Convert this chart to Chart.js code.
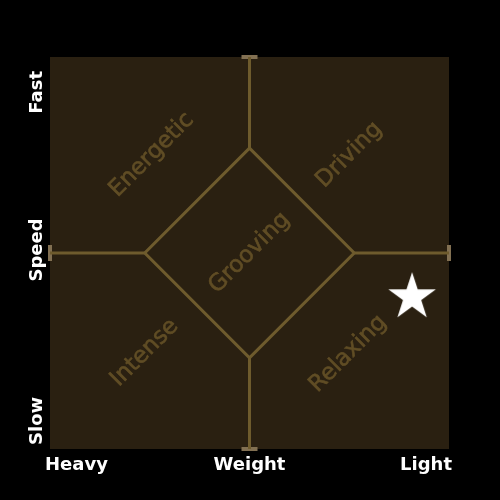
<!DOCTYPE html>
<html>
<head>
<meta charset="utf-8">
<script src="https://cdn.jsdelivr.net/npm/chart.js@4"></script>
<style>
  body { margin: 0; background: #000; }
  canvas { display: block; }
</style>
</head>
<body>
<canvas id="moodChart" width="500" height="500"></canvas>
<script>
// axis ticks
const xTickValues = [-1, 0, 1];
const xTickLabels = ['Heavy', 'Weight', 'Light'];
const yTickValues = [1, 0, -1];
const yTickLabels = ['Fast', 'Speed', 'Slow'];

// the diamond and the four arms
const diamondX = [0, 0.525, 0, -0.525, 0];
const diamondY = [0.535, 0, -0.535, 0, 0.535];
const armsX = [[0, 0], [-1, -0.525], [0.525, 1], [0, 0]];
const armsY = [[1, 0.535], [0, 0], [0, 0], [-0.535, -1]];
const capX = [0, -1, 1, 0];
const capY = [1, 0, 0, -1];
const capAngle = [0, 90, 90, 0];

// quadrant labels
const moodLabels = ['Energetic', 'Driving', 'Grooving', 'Intense', 'Relaxing'];
const moodX = [-0.49, 0.5, 0.0, -0.525, 0.495];
const moodY = [0.5, 0.5, 0.0, -0.51, -0.515];

// the track
const trackX = [0.815];
const trackY = [-0.22];

const lineColor = '#6e5b2d';

function toPoints(xs, ys) {
    return xs.map((x, i) => ({ x: x, y: ys[i] }));
}

// white five pointed star used as the point marker
const starImg = document.createElement('canvas');
starImg.width = 52;
starImg.height = 52;
(function () {
    const c = starImg.getContext('2d');
    c.fillStyle = '#ffffff';
    c.beginPath();
    for (let i = 0; i < 10; i++) {
        const r = i % 2 === 0 ? 25 : 9.6;
        const a = -Math.PI / 2 + i * Math.PI / 5;
        const px = 26 + r * Math.cos(a), py = 27 + r * Math.sin(a);
        if (i === 0) c.moveTo(px, py); else c.lineTo(px, py);
    }
    c.closePath();
    c.fill();
})();

const plotBackground = {
    id: 'plotBackground',
    beforeDraw(chart) {
        const a = chart.chartArea, c = chart.ctx;
        c.save();
        c.fillStyle = '#2a2011';
        c.fillRect(a.left, a.top, a.right - a.left, a.bottom - a.top);
        c.restore();
    }
};

const moodText = {
    id: 'moodText',
    afterDatasetsDraw(chart) {
        const c = chart.ctx, xs = chart.scales.x, ys = chart.scales.y;
        c.save();
        c.font = '23px "DejaVu Sans"';
        c.fillStyle = '#604d25';
        c.strokeStyle = '#604d25';
        c.lineWidth = 0.6;
        c.textAlign = 'center';
        c.textBaseline = 'middle';
        moodLabels.forEach((label, i) => {
            c.save();
            c.translate(xs.getPixelForValue(moodX[i]), ys.getPixelForValue(moodY[i]));
            c.rotate(-Math.PI / 4);
            c.fillText(label, 0, 0);
            c.strokeText(label, 0, 0);
            c.restore();
        });
        c.restore();
    }
};

// tick labels, placed on the scales
const tickText = {
    id: 'tickText',
    afterDraw(chart) {
        const c = chart.ctx, xs = chart.scales.x, ys = chart.scales.y;
        const last = yTickLabels.length - 1;
        c.save();
        c.font = 'bold 18px "DejaVu Sans"';
        c.fillStyle = '#ffffff';
        c.textBaseline = 'middle';
        yTickLabels.forEach((label, i) => {
            const py = ys.getPixelForValue(yTickValues[i]);
            c.save();
            c.translate(37, py);
            c.rotate(-Math.PI / 2);
            c.textAlign = i === 0 ? 'right' : (i === last ? 'left' : 'center');
            c.fillText(label, i === 0 ? -14 : (i === last ? 4 : 3), 0);
            c.restore();
        });
        c.textBaseline = 'alphabetic';
        xTickLabels.forEach((label, i) => {
            const px = xs.getPixelForValue(xTickValues[i]);
            c.textAlign = i === 0 ? 'left' : (i === xTickLabels.length - 1 ? 'right' : 'center');
            c.fillText(label, px + (i === 0 ? -5 : (i === 2 ? 3 : 0)), xs.top + 21);
        });
        c.restore();
    }
};

const datasets = [];
armsX.forEach((xs, i) => {
    datasets.push({
        type: 'line',
        data: toPoints(xs, armsY[i]),
        borderColor: lineColor,
        borderWidth: 3,
        pointRadius: 0
    });
});
datasets.push({
    type: 'line',
    data: toPoints(diamondX, diamondY),
    borderColor: lineColor,
    borderWidth: 3,
    pointRadius: 0
});
datasets.push({
    type: 'scatter',
    data: toPoints(capX, capY),
    pointStyle: 'line',
    pointRotation: capAngle,
    pointRadius: 8,
    borderWidth: 4,
    borderColor: '#827052',
    clip: false
});
datasets.push({
    type: 'scatter',
    data: toPoints(trackX, trackY),
    pointStyle: starImg,
    pointRadius: 25
});

new Chart(document.getElementById('moodChart'), {
    type: 'scatter',
    data: { datasets: datasets },
    options: {
        responsive: false,
        animation: false,
        layout: { padding: { top: 57, right: 51, left: 0, bottom: 0 } },
        plugins: {
            legend: { display: false },
            tooltip: { enabled: false }
        },
        scales: {
            x: {
                type: 'linear',
                min: -1,
                max: 1,
                grid: { display: false, drawTicks: false },
                border: { display: false },
                afterFit(scale) { scale.height = 51; },
                ticks: { display: false }
            },
            y: {
                type: 'linear',
                min: -1,
                max: 1,
                grid: { display: false, drawTicks: false },
                border: { display: false },
                afterFit(scale) { scale.width = 50; },
                ticks: { display: false }
            }
        }
    },
    plugins: [plotBackground, moodText, tickText]
});
</script>
</body>
</html>
